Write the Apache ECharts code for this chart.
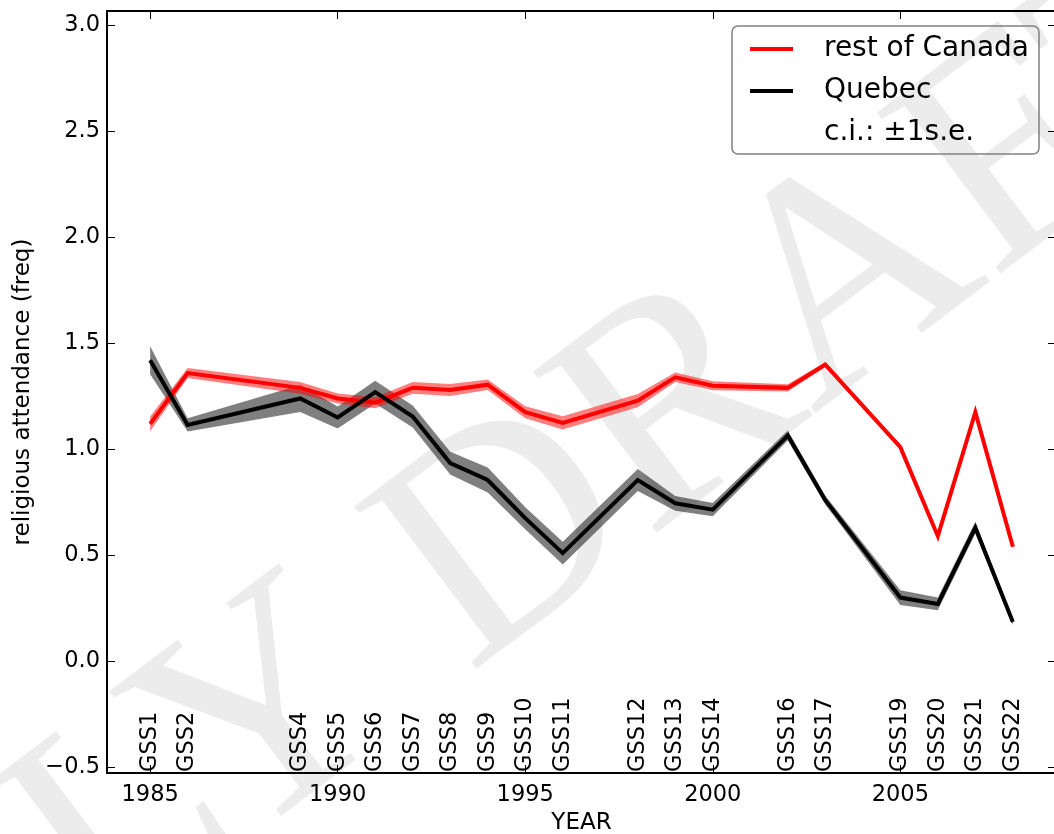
<!DOCTYPE html>
<html>
<head>
<meta charset="utf-8">
<script src="https://cdn.jsdelivr.net/npm/echarts@6/dist/echarts.min.js"></script>
<style>
html,body{margin:0;padding:0;background:#fff;}
#chart{width:1054px;height:834px;}
</style>
</head>
<body>
<div id="chart"></div>
<script>
// ---- data ----
var years = [1985, 1986, 1989, 1990, 1991, 1992, 1993, 1994, 1995, 1996, 1998, 1999, 2000, 2002, 2003, 2005, 2006, 2007, 2008];
var gssLabels = ['GSS1', 'GSS2', 'GSS4', 'GSS5', 'GSS6', 'GSS7', 'GSS8', 'GSS9', 'GSS10', 'GSS11', 'GSS12', 'GSS13', 'GSS14', 'GSS16', 'GSS17', 'GSS19', 'GSS20', 'GSS21', 'GSS22'];
var restMean = [1.12, 1.36, 1.29, 1.24, 1.22, 1.29, 1.28, 1.305, 1.175, 1.125, 1.23, 1.34, 1.30, 1.29, 1.40, 1.01, 0.59, 1.175, 0.54];
var restSE = [0.035, 0.024, 0.028, 0.024, 0.026, 0.028, 0.028, 0.025, 0.028, 0.031, 0.031, 0.022, 0.021, 0.017, 0.012, 0.007, 0.007, 0.007, 0.007];
var quebecMean = [1.42, 1.115, 1.24, 1.15, 1.27, 1.155, 0.935, 0.855, 0.675, 0.51, 0.855, 0.745, 0.715, 1.065, 0.76, 0.30, 0.27, 0.63, 0.185];
var quebecSE = [0.066, 0.031, 0.064, 0.052, 0.054, 0.052, 0.054, 0.059, 0.052, 0.054, 0.052, 0.035, 0.031, 0.024, 0.021, 0.035, 0.030, 0.028, 0.014];
var seriesNames = ['rest of Canada', 'Quebec', 'c.i.: \u00b11s.e.'];
var xLabel = 'YEAR';
var yLabel = 'religious attendance (freq)';
var watermarkText = 'EARLY DRAFT';

// ---- axis configuration ----
var X_MIN = 1983.85, X_MAX = 2009.15;
var Y_MIN = -0.528, Y_MAX = 3.069;
var FONT = 'DejaVu Sans';

function pairs(xs, ys) { return xs.map(function (x, i) { return [x, ys[i]]; }); }
function bandData(m, s) { return years.map(function (x, i) { return [x, m[i] - s[i], m[i] + s[i]]; }); }

function fmtY(v) {
  var r = Math.round(v * 2) / 2;
  if (Math.abs(v - r) > 1e-6) return '';
  return (r < 0 ? '\u2212' : '') + Math.abs(r).toFixed(1);
}
function fmtX(v) {
  var r = Math.round(v);
  if (Math.abs(v - r) > 1e-6 || r % 5 !== 0) return '';
  return String(r);
}

// band polygon: drawn once (at the first data item) from all items via the axes' scales
function bandRenderer(fill) {
  return function (params, api) {
    if (params.dataIndex !== 0) return null;
    var n = years.length, upper = [], lowerPts = [];
    for (var i = 0; i < n; i++) {
      var x = api.value(0, i);
      lowerPts.push(api.coord([x, api.value(1, i)]));
      upper.push(api.coord([x, api.value(2, i)]));
    }
    var pts = upper.concat(lowerPts.reverse());
    return { type: 'polygon', shape: { points: pts }, style: { fill: fill } };
  };
}

var axisLineStyle = { color: '#000', width: 2 };
var tickStyle = { show: true, inside: true, length: 8, lineStyle: { color: '#000', width: 1 } };

var chart = echarts.init(document.getElementById('chart'), null, { renderer: 'canvas' });

var option = {
  animation: false,
  backgroundColor: '#fff',
  textStyle: { fontFamily: FONT },
  grid: { left: 107, right: -2, top: 11, bottom: 61, containLabel: false, outerBoundsMode: 'none' },
  graphic: [{
    type: 'text',
    x: 395, y: 628,
    rotation: 0.646,
    z: -100,
    silent: true,
    style: {
      text: watermarkText,
      font: '310px "Liberation Serif"',
      fill: '#ececec',
      textAlign: 'center',
      textVerticalAlign: 'middle'
    }
  }],
  legend: {
    orient: 'vertical',
    left: 732, top: 26,
    padding: [8, 10, 6, 18],
    itemGap: 12,
    itemWidth: 43, itemHeight: 4,
    borderColor: '#808080', borderWidth: 1.5, borderRadius: 6,
    backgroundColor: 'transparent',
    selectedMode: false,
    textStyle: { fontFamily: FONT, fontSize: 28, color: '#000', lineHeight: 30, padding: [0, 0, 0, 26] },
    data: [
      { name: seriesNames[0], icon: 'rect', itemStyle: { color: '#ff0000' } },
      { name: seriesNames[1], icon: 'rect', itemStyle: { color: '#000000' } },
      { name: seriesNames[2], icon: 'rect', itemStyle: { color: 'rgba(0,0,0,0)', opacity: 0 } }
    ]
  },
  xAxis: [{
    type: 'value', position: 'bottom',
    min: X_MIN, max: X_MAX, splitNumber: 5,
    name: xLabel, nameLocation: 'middle', nameGap: 35,
    nameTextStyle: { fontFamily: FONT, fontSize: 23, color: '#000' },
    axisLine: { show: true, onZero: false, lineStyle: axisLineStyle },
    axisTick: tickStyle,
    axisLabel: { show: true, margin: 11, fontFamily: FONT, fontSize: 22.5, color: '#000', formatter: fmtX, showMinLabel: false, showMaxLabel: false },
    splitLine: { show: false }
  }, {
    type: 'value', position: 'top',
    min: X_MIN, max: X_MAX, splitNumber: 5,
    axisLine: { show: true, onZero: false, lineStyle: axisLineStyle },
    axisTick: tickStyle,
    axisLabel: { show: false },
    splitLine: { show: false }
  }],
  yAxis: [{
    type: 'value', position: 'left',
    min: Y_MIN, max: Y_MAX, splitNumber: 7,
    name: yLabel, nameLocation: 'middle', nameGap: 69, nameRotate: 90,
    nameTextStyle: { fontFamily: FONT, fontSize: 23, color: '#000' },
    axisLine: { show: true, onZero: false, lineStyle: axisLineStyle },
    axisTick: tickStyle,
    axisLabel: { show: true, margin: 7, fontFamily: FONT, fontSize: 22.5, color: '#000', formatter: fmtY, showMinLabel: false, showMaxLabel: false },
    splitLine: { show: false }
  }, {
    type: 'value', position: 'right',
    min: Y_MIN, max: Y_MAX, splitNumber: 7,
    axisLine: { show: true, onZero: false, lineStyle: axisLineStyle },
    axisTick: tickStyle,
    axisLabel: { show: false },
    splitLine: { show: false }
  }],
  series: [
    // Quebec +-1 s.e. band
    { type: 'custom', name: seriesNames[2], silent: true, z: 2,
      data: bandData(quebecMean, quebecSE), encode: { x: 0, y: [1, 2] },
      itemStyle: { color: '#808080' },
      renderItem: bandRenderer('rgba(0,0,0,0.5)') },
    // rest of Canada +-1 s.e. band
    { type: 'custom', name: seriesNames[2], silent: true, z: 3,
      data: bandData(restMean, restSE), encode: { x: 0, y: [1, 2] },
      itemStyle: { color: '#ff8080' },
      renderItem: bandRenderer('rgba(255,0,0,0.5)') },
    // mean lines
    { type: 'line', name: seriesNames[0], data: pairs(years, restMean), symbol: 'none', silent: true,
      itemStyle: { color: '#ff0000' }, lineStyle: { color: '#ff0000', width: 4, join: 'miter' }, z: 4 },
    { type: 'line', name: seriesNames[1], data: pairs(years, quebecMean), symbol: 'none', silent: true,
      itemStyle: { color: '#000000' }, lineStyle: { color: '#000000', width: 4, join: 'miter' }, z: 5 },
    // GSS survey labels
    { type: 'custom', name: 'gss', silent: true, clip: false, z: 6,
      data: years.map(function (y) { return [y, Y_MIN]; }),
      encode: { x: 0, y: 1 },
      renderItem: function (params, api) {
        var p = api.coord([api.value(0), api.value(1)]);
        return {
          type: 'text',
          x: p[0], y: p[1] - 1,
          rotation: Math.PI / 2,
          style: {
            text: gssLabels[params.dataIndex],
            fontFamily: FONT, fontSize: 22.5,
            fill: '#000',
            textAlign: 'left',
            textVerticalAlign: 'middle'
          }
        };
      }
    }
  ]
};
chart.setOption(option);
</script>
</body>
</html>
